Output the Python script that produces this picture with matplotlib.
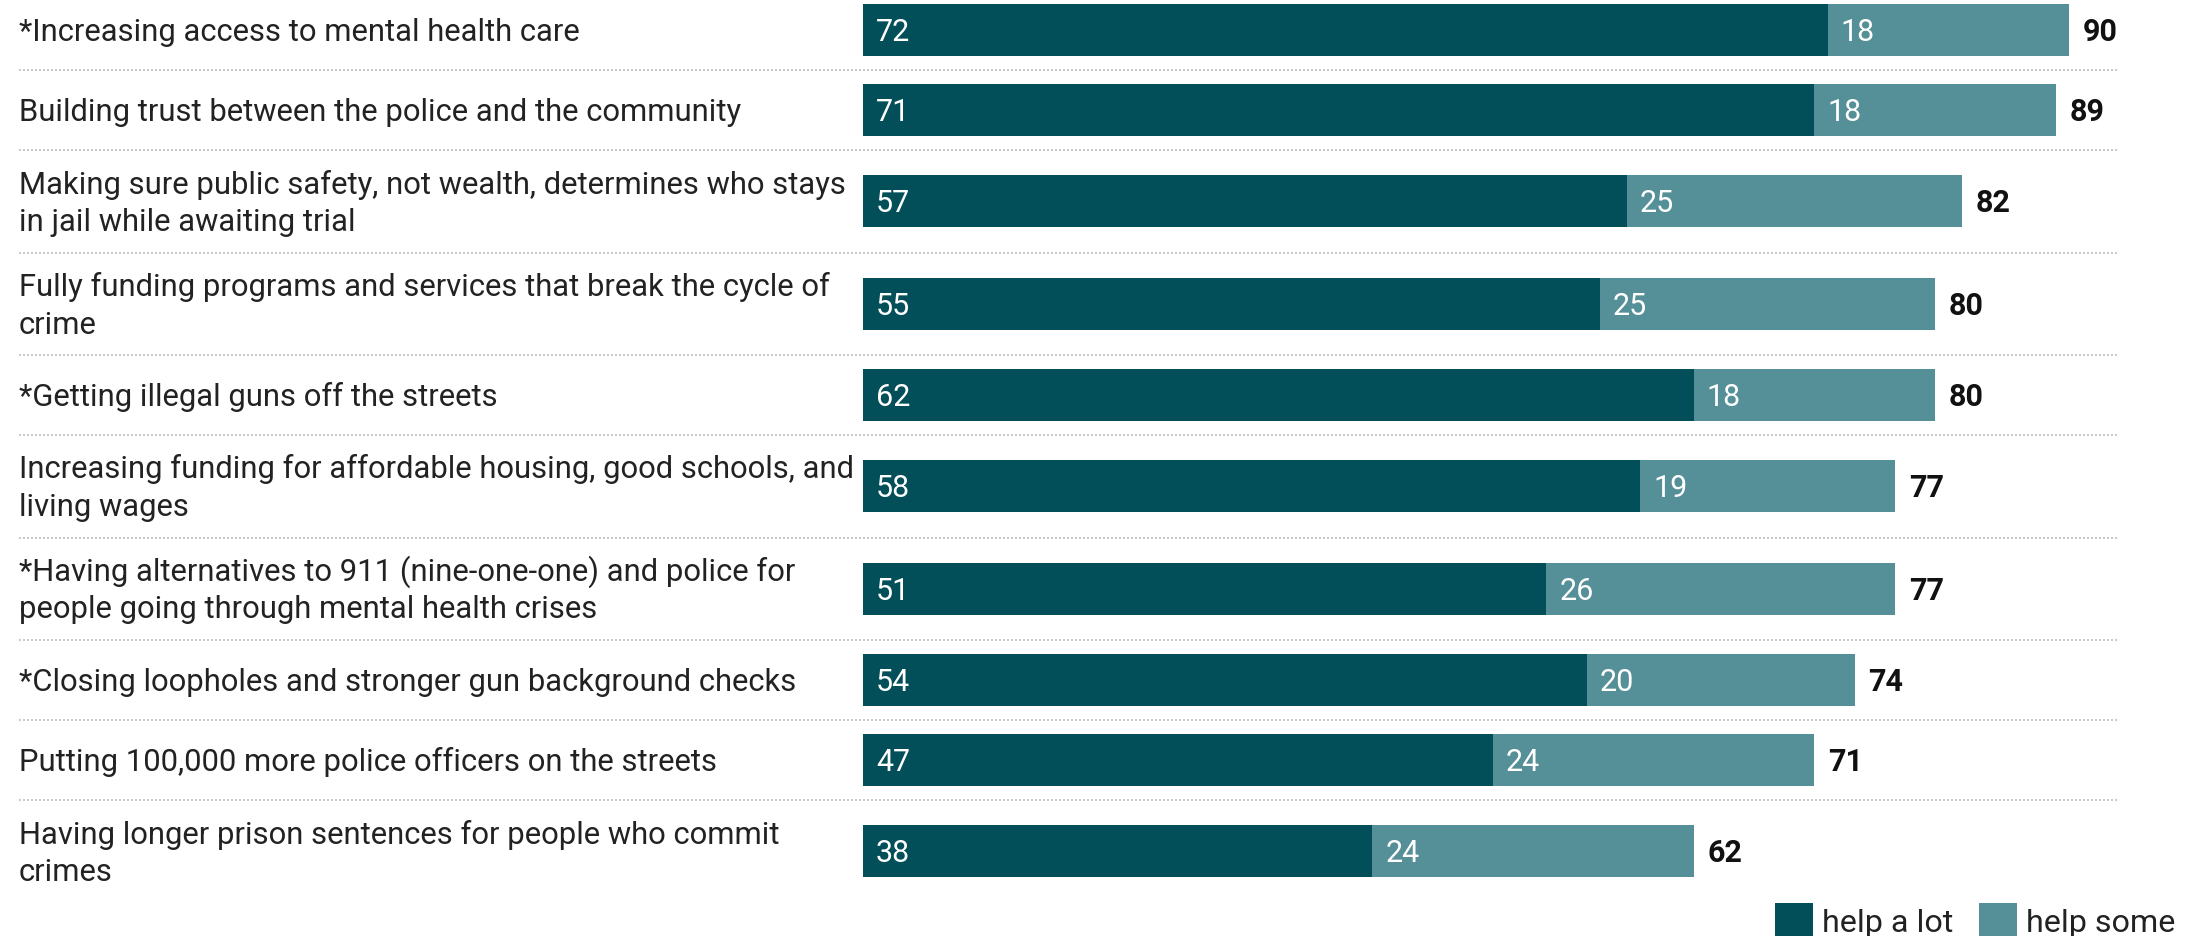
import matplotlib
matplotlib.use("Agg")
import matplotlib.pyplot as plt
from matplotlib import transforms
from matplotlib.patches import Rectangle

# ---------------- data ----------------
categories = [
    "*Increasing access to mental health care",
    "Building trust between the police and the community",
    "Making sure public safety, not wealth, determines who stays\nin jail while awaiting trial",
    "Fully funding programs and services that break the cycle of\ncrime",
    "*Getting illegal guns off the streets",
    "Increasing funding for affordable housing, good schools, and\nliving wages",
    "*Having alternatives to 911 (nine-one-one) and police for\npeople going through mental health crises",
    "*Closing loopholes and stronger gun background checks",
    "Putting 100,000 more police officers on the streets",
    "Having longer prison sentences for people who commit\ncrimes",
]
help_a_lot = [72, 71, 57, 55, 62, 58, 51, 54, 47, 38]
help_some = [18, 18, 25, 25, 18, 19, 26, 20, 24, 24]
totals = [90, 89, 82, 80, 80, 77, 77, 74, 71, 62]
series_names = ["help a lot", "help some"]

# ---------------- style ----------------
colors = ["#034f59", "#558f98"]
sep_color = "#c9c9c9"
text_color = "#222222"
FONT = "Roboto"
W, H, DPI = 2201, 936, 100
PX = 0.72  # points per pixel at 100 dpi

fig = plt.figure(figsize=(W / DPI, H / DPI), dpi=DPI)
fig.patch.set_facecolor("white")
ax = fig.add_axes([0, 0, 1, 1])
ax.axis("off")

px_per_unit = 13.4
x0_px = 863
ax.set_xlim(-x0_px / px_per_unit, (W - x0_px) / px_per_unit)
ax.set_ylim(H, 0)  # layout units = pixels, top-down

# row layout (based on number of text lines)
row_h_single, row_h_double = 80, 102.5
top = -10
centers, bounds = [], []
y = top
for c in categories:
    n = c.count("\n") + 1
    h = row_h_single if n == 1 else row_h_double
    centers.append(y + h / 2)
    y += h
    bounds.append(y)

bar_h = 52
ax.barh(centers, help_a_lot, height=bar_h, color=colors[0], label=series_names[0])
ax.barh(centers, help_some, left=help_a_lot, height=bar_h, color=colors[1], label=series_names[1])

blend = transforms.blended_transform_factory(fig.transFigure, ax.transData)
fs = 22.3
fs_val = 22.0
line_gap = 37.5
cap_half = 11

for i, (c, yc) in enumerate(zip(categories, centers)):
    lines = c.split("\n")
    n = len(lines)
    first_base = yc + cap_half - (n - 1) * line_gap / 2
    for k, ln in enumerate(lines):
        ax.text(19 / W, first_base + k * line_gap, ln, transform=blend,
                fontsize=fs, family=FONT, color=text_color, va="baseline", ha="left")
    # values inside bars
    ax.annotate(str(help_a_lot[i]), xy=(0, yc), xytext=(13 * PX, -cap_half * PX),
                textcoords="offset points", fontsize=fs_val, family=FONT, color="white",
                va="baseline", ha="left")
    ax.annotate(str(help_some[i]), xy=(help_a_lot[i], yc), xytext=(13 * PX, -cap_half * PX),
                textcoords="offset points", fontsize=fs_val, family=FONT, color="white",
                va="baseline", ha="left")
    ax.annotate(str(totals[i]), xy=(help_a_lot[i] + help_some[i], yc),
                xytext=(14 * PX, -cap_half * PX), textcoords="offset points",
                fontsize=fs_val, family=FONT, fontweight="bold", color="#111111",
                va="baseline", ha="left")

# dotted separators
for b in bounds[:-1]:
    ax.plot([19 / W, 2118 / W], [b, b], transform=blend, color=sep_color,
            lw=2 * PX, linestyle=(0, (1, 1)), solid_capstyle="butt",
            dash_capstyle="butt", clip_on=False)

# legend (manual, bottom right)
leg_items = [(1775, series_names[0], colors[0]), (1979, series_names[1], colors[1])]
for x, name, col in leg_items:
    fig.add_artist(Rectangle((x / W, (H - 941) / H), 38 / W, 38 / H,
                             transform=fig.transFigure, facecolor=col, edgecolor="none"))
    fig.text((x + 47) / W, (H - 932) / H, name, fontsize=23.2, family=FONT,
             color=text_color, va="baseline", ha="left")

fig.savefig("out.png", dpi=DPI, facecolor="white")
